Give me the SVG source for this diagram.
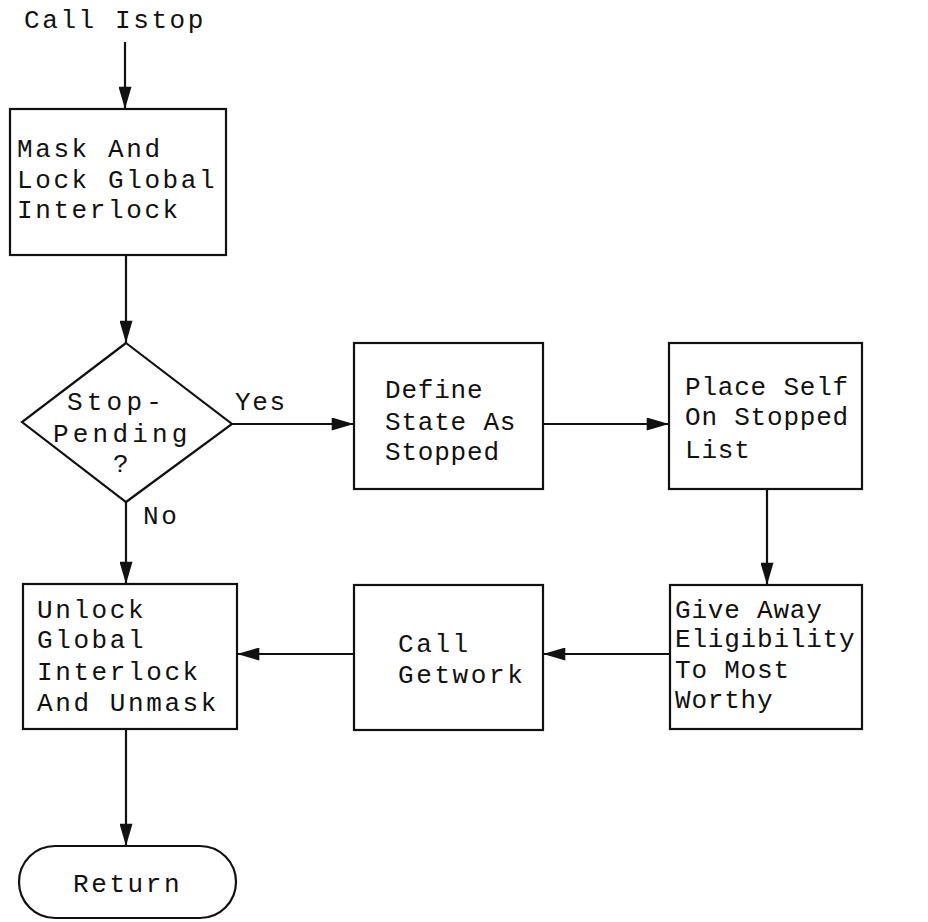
<svg xmlns="http://www.w3.org/2000/svg" width="928" height="922" viewBox="0 0 928 922">
<style>
text{font-family:"Liberation Mono","DejaVu Sans Mono",monospace;font-size:26px;fill:#111}
.l{letter-spacing:2.6px}
.r{letter-spacing:0.8px}
.d{letter-spacing:4.2px}
.y{letter-spacing:1.6px}
.box{fill:#fff;stroke:#111;stroke-width:2.2}
.ln{fill:none;stroke:#111;stroke-width:2.2}
</style>
<defs>
<marker id="ah" viewBox="0 0 24 14" refX="24" refY="7" markerWidth="24" markerHeight="13" markerUnits="userSpaceOnUse" orient="auto">
<path d="M0,0 L24,7 L0,14 Z" fill="#111"/>
</marker>
</defs>
<rect width="928" height="922" fill="#fff"/>
<g id="connectors">
<line class="ln" x1="125" y1="42" x2="125" y2="109" marker-end="url(#ah)"/>
<line class="ln" x1="126" y1="255" x2="126" y2="343" marker-end="url(#ah)"/>
<line class="ln" x1="232" y1="424" x2="354" y2="424" marker-end="url(#ah)"/>
<line class="ln" x1="543" y1="424" x2="669" y2="424" marker-end="url(#ah)"/>
<line class="ln" x1="767" y1="489" x2="767" y2="585" marker-end="url(#ah)"/>
<line class="ln" x1="670" y1="654" x2="543" y2="654" marker-end="url(#ah)"/>
<line class="ln" x1="354" y1="654" x2="237" y2="654" marker-end="url(#ah)"/>
<line class="ln" x1="126" y1="502" x2="126" y2="584" marker-end="url(#ah)"/>
<line class="ln" x1="126" y1="729" x2="126" y2="846" marker-end="url(#ah)"/>
<text class="y" x="235" y="410">Yes</text>
<text class="l" x="143" y="524">No</text>
</g>
<g id="start">
<text class="l" x="24" y="28">Call Istop</text>
</g>
<g id="mask">
<rect class="box" x="10" y="109" width="216" height="146"/>
<text class="l" x="17" y="157">Mask And</text>
<text class="l" x="17" y="188">Lock Global</text>
<text class="l" x="17" y="218">Interlock</text>
</g>
<g id="decision">
<polygon class="box" points="126,343 232,424 126,502 22,422"/>
<text class="d" x="67" y="410">Stop-</text>
<text class="d" x="53" y="442">Pending</text>
<text class="d" x="113" y="472">?</text>
</g>
<g id="define">
<rect class="box" x="354" y="343" width="189" height="146"/>
<text class="r" x="385" y="398">Define</text>
<text class="r" x="385" y="430">State As</text>
<text class="r" x="385" y="460">Stopped</text>
</g>
<g id="place">
<rect class="box" x="669" y="343" width="193" height="146"/>
<text class="r" x="685" y="395">Place Self</text>
<text class="r" x="685" y="425">On Stopped</text>
<text class="r" x="685" y="458">List</text>
</g>
<g id="giveaway">
<rect class="box" x="670" y="585" width="192" height="144"/>
<text class="r" x="675" y="618">Give Away</text>
<text class="r" x="675" y="647">Eligibility</text>
<text class="r" x="675" y="678">To Most</text>
<text class="r" x="675" y="708">Worthy</text>
</g>
<g id="getwork">
<rect class="box" x="354" y="585" width="189" height="145"/>
<text class="l" x="398" y="652">Call</text>
<text class="l" x="398" y="683">Getwork</text>
</g>
<g id="unlock">
<rect class="box" x="23" y="584" width="214" height="145"/>
<text class="l" x="37" y="618">Unlock</text>
<text class="l" x="37" y="648">Global</text>
<text class="l" x="37" y="680">Interlock</text>
<text class="l" x="37" y="711">And Unmask</text>
</g>
<g id="return">
<rect class="box" x="19" y="846" width="217" height="72" rx="36" ry="36"/>
<text class="l" x="73" y="892">Return</text>
</g>
</svg>
